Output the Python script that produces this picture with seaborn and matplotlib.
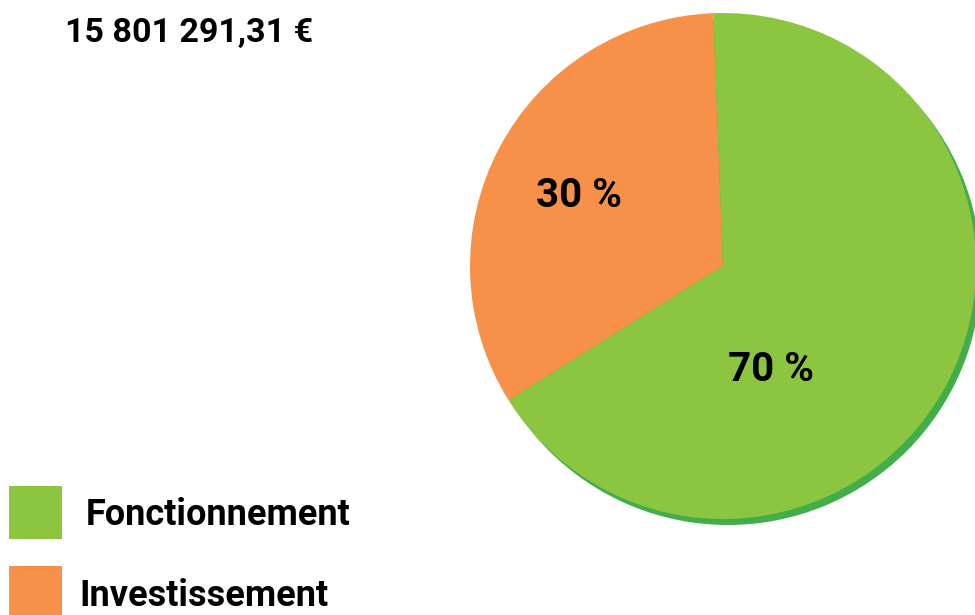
import matplotlib
matplotlib.use("Agg")
import matplotlib.pyplot as plt
import seaborn as sns

sns.set_style("white")
plt.rcParams['font.family'] = ['Roboto', 'DejaVu Sans']

# data
categories = ['Fonctionnement', 'Investissement']
shares = [66.7, 33.3]          # wedge sizes as drawn
share_labels = ['70 %', '30 %']  # labels as printed
total_label = '15 801 291,31 €'

green = '#8cc640'
orange = '#f79149'
shadow = '#41ae4a'

W, H = 975, 615
fig = plt.figure(figsize=(W / 100, H / 100), dpi=100)
ax = fig.add_axes([0, 0, 1, 1])

cx, cy, r = 723, H - 266, 253

# drop shadow under the pie
ax.pie([1], colors=[shadow], center=(cx + 5, cy - 6), radius=r,
       wedgeprops=dict(linewidth=0))
# pie itself: orange first so it sits on the upper left
ax.pie(shares[::-1], colors=[orange, green], center=(cx, cy), radius=r,
       startangle=92.2, counterclock=True, wedgeprops=dict(linewidth=0))

ax.set_xlim(0, W)
ax.set_ylim(0, H)
ax.set_aspect('equal')
ax.axis('off')

ax.text(771, H - 381, share_labels[0], ha='center', va='baseline',
        fontsize=29, fontweight='bold', color='black')
ax.text(579, H - 207, share_labels[1], ha='center', va='baseline',
        fontsize=29, fontweight='bold', color='black')

ax.text(65, H - 42, total_label, ha='left', va='baseline',
        fontsize=24.5, fontweight='bold', color='black')

# legend squares
for (y0, col, lab, tx, base) in [(486, green, categories[0], 86, 525),
                                 (566, orange, categories[1], 79, 606)]:
    ax.add_patch(plt.Rectangle((9, H - y0 - 53), 53, 53, color=col, lw=0))
    ax.text(tx, H - base, lab, ha='left', va='baseline',
            fontsize=26, fontweight='bold', color='black')

fig.savefig('out.png', dpi=100, facecolor='white')
